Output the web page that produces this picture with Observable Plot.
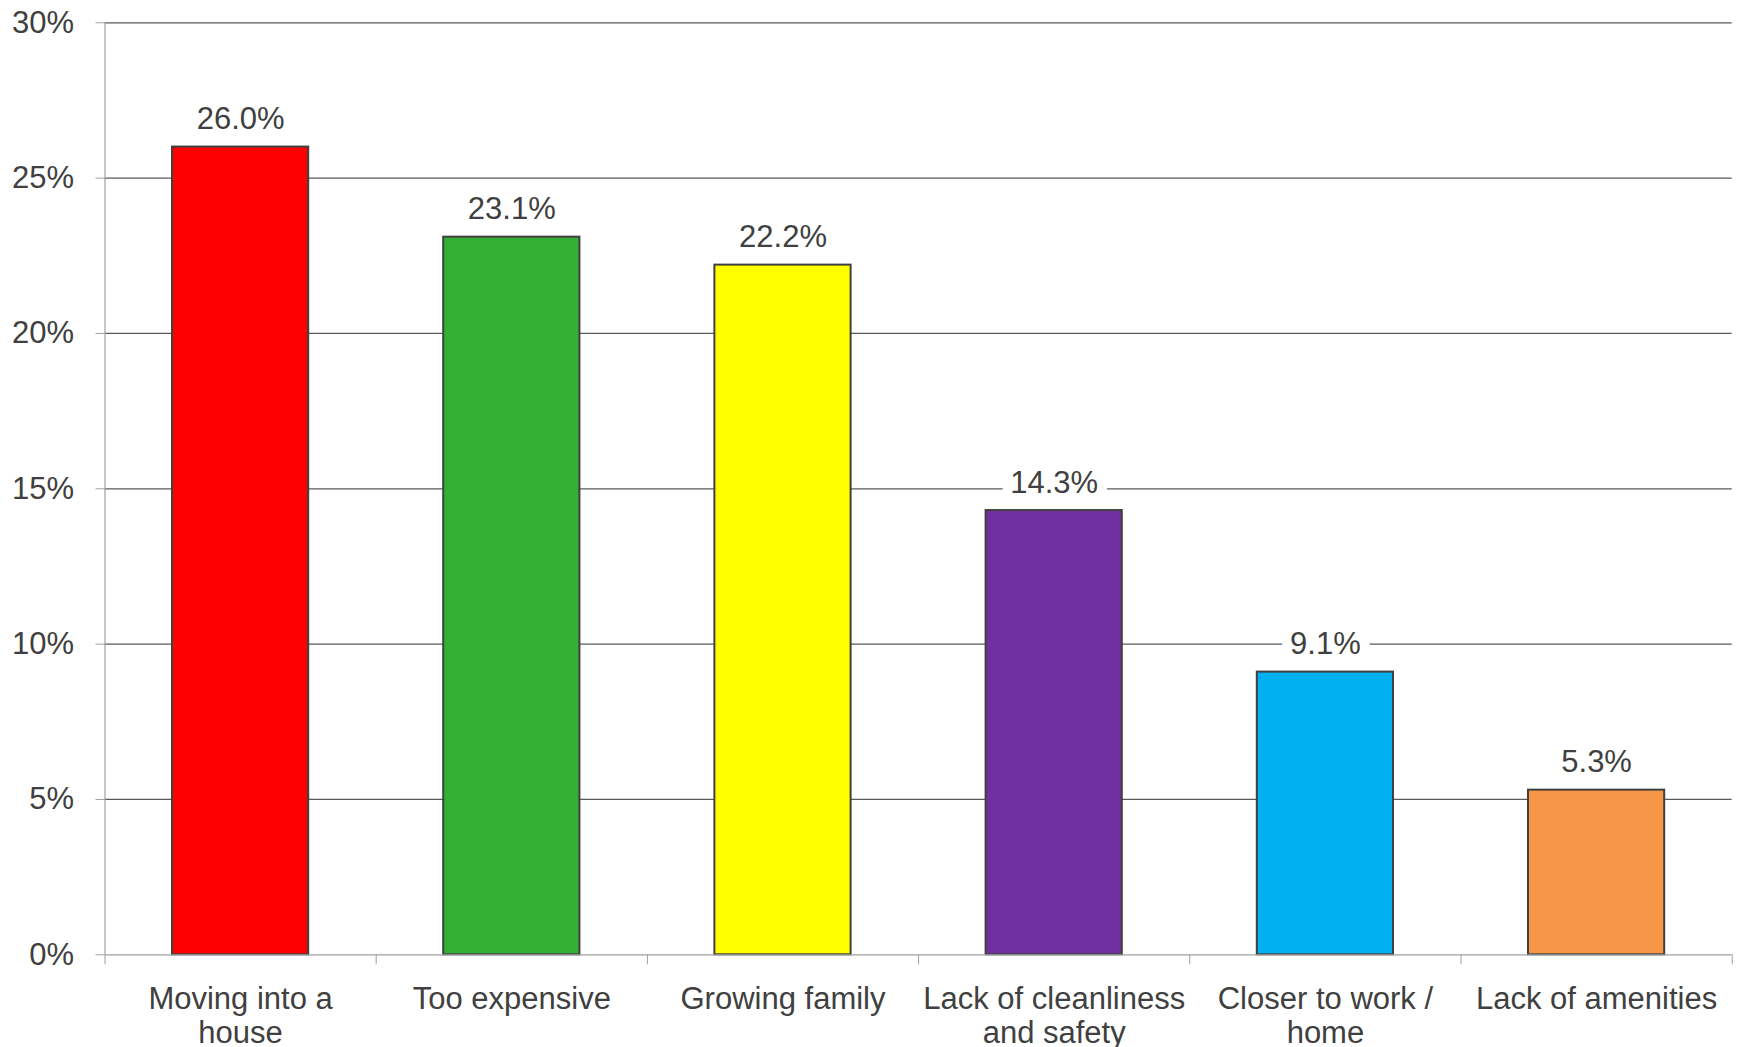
<!DOCTYPE html>
<html>
<head>
<meta charset="utf-8">
<script src="https://cdn.jsdelivr.net/npm/d3@7"></script>
<script src="https://cdn.jsdelivr.net/npm/@observablehq/plot@0.6"></script>
<style>
  html, body { margin: 0; padding: 0; background: #ffffff; }
  #chart svg { display: block; }
</style>
</head>
<body>
<div id="chart"></div>
<script>
const categories = ["Moving into a house", "Too expensive", "Growing family", "Lack of cleanliness and safety", "Closer to work / home", "Lack of amenities"];
const tickLabels = ["Moving into a\nhouse", "Too expensive", "Growing family", "Lack of cleanliness\nand safety", "Closer to work /\nhome", "Lack of amenities"];
const values = [26.0, 23.1, 22.2, 14.3, 9.1, 5.3];
const colors = ["#FF0000", "#33B035", "#FFFF00", "#7030A0", "#00B0F0", "#F79646"];
const yTicks = [0, 5, 10, 15, 20, 25, 30];

const data = categories.map((c, i) => ({i, category: c, value: values[i], color: colors[i], label: tickLabels[i]}));
const bandEdges = d3.range(categories.length + 1);
const bandCenters = data.map(d => d.i + 0.5);

const chart = Plot.plot({
  width: 1739,
  height: 1047,
  marginLeft: 104.5,
  marginRight: 7.3,
  marginTop: 22.3,
  marginBottom: 92.7,
  x: {domain: [0, categories.length], axis: null},
  y: {domain: [0, 30], axis: null},
  color: {type: "identity"},
  style: {fontFamily: "'Liberation Sans', Arial, sans-serif", fontSize: "31px", background: "#ffffff", overflow: "visible"},
  marks: [
    Plot.ruleY(yTicks.filter(t => t > 0), {stroke: "#595959", strokeWidth: 1.2}),
    Plot.rectY(data, {x1: "i", x2: d => d.i + 1, y: "value", fill: "color", stroke: "#404040", strokeWidth: 2, insetLeft: 67.5, insetRight: 67.5}),
    Plot.ruleY([0], {stroke: "#a0a0a0", strokeWidth: 1.2}),
    Plot.ruleX([0], {y1: 0, y2: 30, stroke: "#a0a0a0", strokeWidth: 1.2}),
    Plot.axisY({ticks: yTicks, tickSize: 9, tickFormat: () => "", color: "#a0a0a0", label: null}),
    Plot.axisY({ticks: yTicks, tickSize: 0, tickPadding: 31, tickFormat: d => d + "%", color: "#404040", label: null}),
    Plot.axisX({ticks: bandEdges, tickSize: 10, tickFormat: () => "", color: "#a0a0a0", label: null}),
    Plot.axisX({ticks: bandCenters, tickSize: 0, tickPadding: 31, lineHeight: 1.07, tickFormat: d => tickLabels[Math.floor(d)], color: "#404040", label: null}),
    Plot.text(data, {x: d => d.i + 0.5, y: "value", text: d => d.value.toFixed(1) + "%", lineAnchor: "bottom", dy: -18, fill: "#404040", stroke: "#ffffff", strokeWidth: 20, paintOrder: "stroke"})
  ]
});
document.getElementById("chart").appendChild(chart);
</script>
</body>
</html>
